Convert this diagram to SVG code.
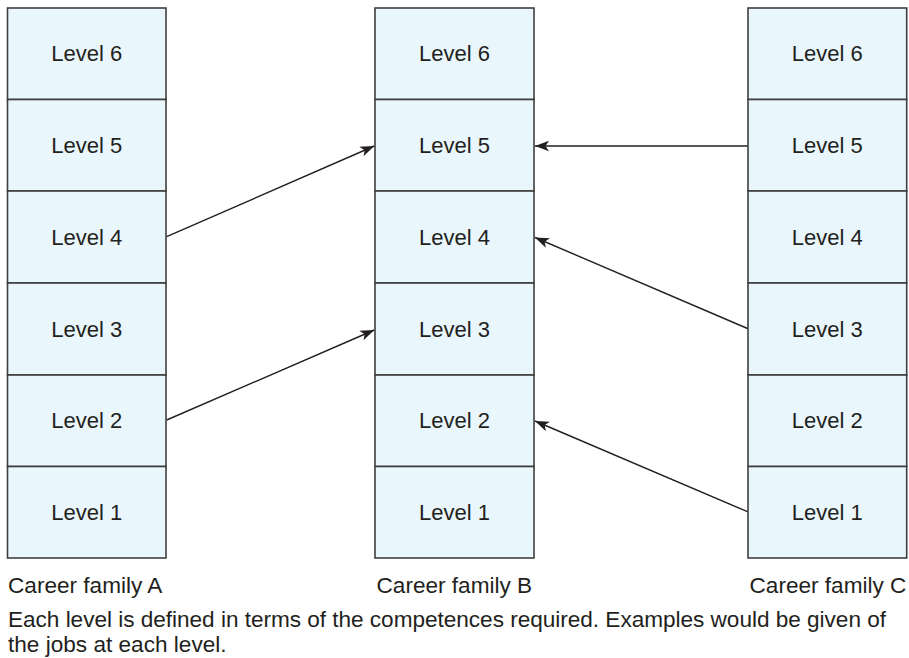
<svg xmlns="http://www.w3.org/2000/svg" width="909" height="658" viewBox="0 0 909 658">
<style>
.cell{fill:#e9f6fc;stroke:#3f3f3f;stroke-width:1.6}
.t{font-family:"Liberation Sans",Arial,sans-serif;font-size:22px;fill:#231f20;text-anchor:middle}
.lab{font-family:"Liberation Sans",Arial,sans-serif;font-size:22.6px;fill:#231f20}
.c{stroke:#231f20;stroke-width:1.4;fill:none;marker-end:url(#ah)}
</style>
<defs>
<marker id="ah" markerUnits="userSpaceOnUse" markerWidth="16" markerHeight="12" viewBox="0 0 16 12" refX="14" refY="6" orient="auto">
<path d="M0,0.8 L14,6 L0,11.2 L3.5,6 z" fill="#231f20"/>
</marker>
</defs>
<g id="familyA">
<g id="a6"><rect class="cell" x="7.5" y="8" width="158.5" height="91.5"/><text class="t" x="86.75" y="61">Level 6</text></g>
<g id="a5"><rect class="cell" x="7.5" y="99.5" width="158.5" height="91.5"/><text class="t" x="86.75" y="152.5">Level 5</text></g>
<g id="a4"><rect class="cell" x="7.5" y="191" width="158.5" height="92"/><text class="t" x="86.75" y="244.5">Level 4</text></g>
<g id="a3"><rect class="cell" x="7.5" y="283" width="158.5" height="92"/><text class="t" x="86.75" y="336.5">Level 3</text></g>
<g id="a2"><rect class="cell" x="7.5" y="375" width="158.5" height="91.5"/><text class="t" x="86.75" y="428">Level 2</text></g>
<g id="a1"><rect class="cell" x="7.5" y="466.5" width="158.5" height="91.5"/><text class="t" x="86.75" y="519.5">Level 1</text></g>
<text id="labelA" class="lab" x="8" y="593">Career family A</text>
</g>
<g id="familyB">
<g id="b6"><rect class="cell" x="375" y="8" width="159" height="91.5"/><text class="t" x="454.5" y="61">Level 6</text></g>
<g id="b5"><rect class="cell" x="375" y="99.5" width="159" height="91.5"/><text class="t" x="454.5" y="152.5">Level 5</text></g>
<g id="b4"><rect class="cell" x="375" y="191" width="159" height="92"/><text class="t" x="454.5" y="244.5">Level 4</text></g>
<g id="b3"><rect class="cell" x="375" y="283" width="159" height="92"/><text class="t" x="454.5" y="336.5">Level 3</text></g>
<g id="b2"><rect class="cell" x="375" y="375" width="159" height="91.5"/><text class="t" x="454.5" y="428">Level 2</text></g>
<g id="b1"><rect class="cell" x="375" y="466.5" width="159" height="91.5"/><text class="t" x="454.5" y="519.5">Level 1</text></g>
<text id="labelB" class="lab" x="376.5" y="593">Career family B</text>
</g>
<g id="familyC">
<g id="c6"><rect class="cell" x="748" y="8" width="158.7" height="91.5"/><text class="t" x="827.3" y="61">Level 6</text></g>
<g id="c5"><rect class="cell" x="748" y="99.5" width="158.7" height="91.5"/><text class="t" x="827.3" y="152.5">Level 5</text></g>
<g id="c4"><rect class="cell" x="748" y="191" width="158.7" height="92"/><text class="t" x="827.3" y="244.5">Level 4</text></g>
<g id="c3"><rect class="cell" x="748" y="283" width="158.7" height="92"/><text class="t" x="827.3" y="336.5">Level 3</text></g>
<g id="c2"><rect class="cell" x="748" y="375" width="158.7" height="91.5"/><text class="t" x="827.3" y="428">Level 2</text></g>
<g id="c1"><rect class="cell" x="748" y="466.5" width="158.7" height="91.5"/><text class="t" x="827.3" y="519.5">Level 1</text></g>
<text id="labelC" class="lab" x="749.5" y="593">Career family C</text>
</g>
<g id="connectors">
<line class="c" x1="166.7" y1="236.7" x2="374.3" y2="146"/>
<line class="c" x1="166.7" y1="420" x2="374.3" y2="330"/>
<line class="c" x1="747.5" y1="146" x2="535" y2="146"/>
<line class="c" x1="747.5" y1="328.5" x2="535" y2="237.5"/>
<line class="c" x1="747.5" y1="511.7" x2="535" y2="421"/>
</g>
<g id="caption">
<text class="lab" x="8" y="626.5" textLength="878" lengthAdjust="spacing">Each level is defined in terms of the competences required. Examples would be given of</text>
<text class="lab" x="8" y="652">the jobs at each level.</text>
</g>
</svg>
